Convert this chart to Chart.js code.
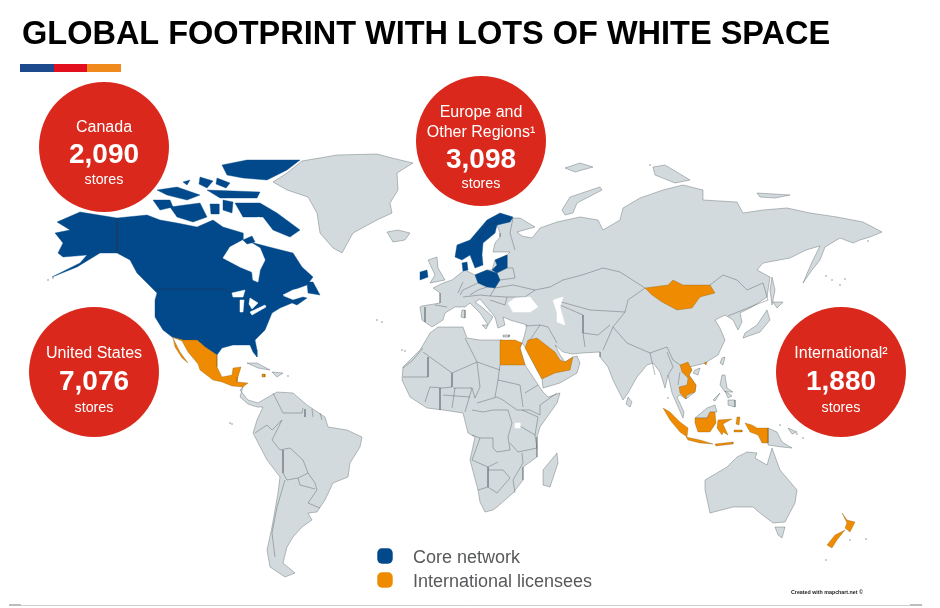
<!DOCTYPE html>
<html><head><meta charset="utf-8">
<script src="https://cdn.jsdelivr.net/npm/chart.js@4"></script>
<style>html,body{margin:0;padding:0;background:#fff}canvas{display:block}</style>
</head><body><canvas id="c" width="940" height="608"></canvas>
<script>
const title = "GLOBAL FOOTPRINT WITH LOTS OF WHITE SPACE";
const regionNames = [["Canada"],["Europe and","Other Regions¹"],["United States"],["International²"]];
const storeCounts = [2090,3098,7076,1880];
const storeUnit = "stores";
const legendNames = ["Core network","International licensees"];
const credit = "Created with mapchart.net ©";

/* map shapes, in map units */
const greenland=[[302,161],[337,155],[377,154],[392,158],[413,163],[397,173],[398,190],[390,203],[392,213],[377,220],[353,233],[342,253],[333,248],[320,233],[317,213],[308,197],[287,190],[273,182],[287,173]];
const iceland=[[387,232],[398,230],[410,233],[405,240],[393,242]];
const eurasia=[[420,307],[422,320],[432,327],[443,320],[445,313],[455,307],[465,307],[470,303],[480,313],[488,325],[493,317],[483,308],[475,302],[480,299],[495,317],[498,328],[505,325],[503,317],[510,320],[527,325],[524,337],[522,343],[526,348],[537,370],[542,379],[543,388],[560,383],[577,373],[580,363],[577,356],[573,357],[565,362],[560,355],[555,345],[563,352],[572,354],[582,353],[600,352],[600,357],[608,367],[613,380],[623,400],[628,393],[637,377],[647,365],[653,363],[660,372],[665,388],[668,375],[672,393],[683,418],[684,412],[677,397],[680,395],[686,399],[695,392],[696,385],[689,375],[692,370],[690,367],[705,363],[718,355],[725,340],[720,328],[715,320],[725,315],[733,320],[738,330],[742,322],[740,313],[752,307],[767,297],[770,277],[757,270],[763,263],[790,258],[806,250],[820,246],[812,262],[803,283],[812,270],[820,260],[825,247],[840,238],[853,243],[860,240],[870,237],[882,232],[863,222],[837,217],[810,213],[787,208],[763,210],[743,213],[737,202],[703,200],[703,190],[683,185],[663,190],[640,198],[623,208],[620,220],[603,230],[598,220],[580,217],[557,222],[540,228],[532,238],[522,236],[517,232],[535,227],[520,218],[513,218],[505,222],[497,225],[500,233],[500,237],[495,243],[493,252],[510,252],[507,255],[495,260],[492,270],[487,270],[475,275],[465,270],[462,272],[452,280],[443,283],[433,288],[440,293],[440,303],[422,306]];
const africa=[[438,327],[463,327],[467,338],[480,340],[500,340],[522,343],[520,348],[525,365],[533,377],[543,392],[548,397],[560,393],[557,403],[540,427],[537,437],[537,457],[523,467],[523,480],[513,493],[497,507],[493,510],[485,512],[480,502],[478,490],[470,460],[475,437],[468,433],[463,413],[443,410],[427,408],[410,397],[402,380],[403,367],[420,350],[430,333]];
const madagascar=[[557,453],[558,463],[550,487],[543,485],[543,470]];
const centralSouthAmerica=[[243,387],[240,390],[248,400],[258,403],[263,400],[277,392],[293,393],[307,405],[325,417],[328,427],[347,430],[362,437],[360,447],[350,463],[348,477],[333,483],[325,500],[317,512],[308,513],[312,520],[302,527],[293,537],[287,547],[283,563],[295,573],[285,577],[270,567],[267,550],[272,527],[278,493],[280,477],[267,460],[253,433],[257,420],[263,407],[257,407],[248,404],[240,397]];
const australia=[[747,452],[757,453],[755,458],[767,465],[772,448],[780,470],[797,490],[795,503],[785,522],[773,523],[760,513],[753,507],[733,507],[710,513],[705,490],[705,480],[727,467],[737,457]];
const tasmania=[[775,527],[785,527],[782,538],[778,535]];
const uk=[[428,260],[437,257],[438,268],[445,280],[430,283],[435,275]];
const japan=[[767,310],[770,320],[760,332],[743,338],[745,333],[757,325]];
const hokkaido=[[773,302],[783,302],[777,308]];
const sriLanka=[[628,397],[632,402],[630,407],[626,404]];
const taiwan=[[722,358],[725,357],[723,365],[720,363]];
const hainan=[[695,370],[700,368],[698,375],[693,373]];
const luzon=[[722,375],[725,375],[727,388],[733,392],[725,392],[720,385]];
const mindanao=[[728,400],[735,400],[735,407],[728,405]];
const visayas=[[725,391],[732,396],[728,398]];
const palawan=[[720,393],[713,400],[715,401]];
const borneoNorth=[[695,418],[707,408],[715,405],[717,412],[710,412],[707,418]];
const papuaGuinea=[[768,428],[777,432],[782,442],[792,448],[782,447],[768,445]];
const newBritain=[[788,428],[797,432],[792,434]];
const cuba=[[247,363],[257,363],[270,370],[258,368]];
const hispaniola=[[272,372],[283,373],[277,377]];
const svalbard=[[565,168],[580,163],[593,167],[575,172]];
const novayaZemlya=[[562,210],[570,197],[600,187],[602,190],[577,203],[573,213],[565,215]];
const severnaya=[[653,167],[665,165],[690,180],[675,183],[655,175]];
const newSiberian=[[757,193],[790,195],[775,198],[760,197]];
const sakhalin=[[772,277],[775,290],[772,305],[770,290]];
const sicily=[[482,325],[488,325],[486,329]];
const sardinia=[[462,310],[465,310],[465,318],[461,317]];
const crete=[[503,335],[510,335],[509,337],[503,337]];
const landShapes=[greenland,iceland,eurasia,africa,madagascar,centralSouthAmerica,australia,tasmania,uk,japan,hokkaido,sriLanka,taiwan,hainan,luzon,mindanao,visayas,palawan,borneoNorth,papuaGuinea,newBritain,cuba,hispaniola,svalbard,novayaZemlya,severnaya,newSiberian,sakhalin,sicily,sardinia,crete];

const blackSea=[[508,303],[515,298],[530,297],[538,307],[530,312],[513,312]];
const caspian=[[553,300],[563,297],[560,307],[565,325],[557,322],[557,313]];
const lakeVictoria=[[515,423],[520,423],[520,428],[515,428]];
const hudsonBay=[[243,240],[230,247],[223,258],[240,267],[252,272],[253,280],[258,282],[260,270],[265,260],[260,248],[250,242]];
const foxeBasin=[[258,217],[263,220],[264,230],[258,232],[255,224]];
const superior=[[232,293],[245,290],[243,297],[233,297]];
const michigan=[[240,300],[244,300],[243,312],[240,312]];
const huron=[[250,298],[258,303],[252,309],[249,304]];
const erieOntario=[[250,312],[265,305],[266,307],[252,315]];
const gulfStLawrence=[[283,295],[293,290],[303,289],[303,294],[296,298]];
const whiteWater=[blackSea,caspian,lakeVictoria,hudsonBay,foxeBasin,superior,michigan,huron,erieOntario,gulfStLawrence];

const canadaUsa=[[57,222],[80,212],[117,218],[147,215],[160,220],[177,223],[197,227],[213,220],[223,227],[243,233],[243,240],[250,242],[273,248],[293,253],[302,267],[313,277],[307,285],[293,290],[283,296],[293,300],[303,297],[307,298],[297,305],[292,303],[280,308],[272,313],[265,330],[255,340],[257,350],[257,357],[253,352],[250,345],[233,345],[222,348],[217,355],[205,347],[197,340],[183,340],[172,337],[163,330],[155,317],[155,300],[157,293],[147,283],[137,273],[130,260],[117,253],[100,253],[77,267],[52,277],[80,263],[87,255],[63,257],[58,253],[63,243],[55,233],[70,230]];
const newfoundland=[[307,282],[313,282],[320,295],[308,293]];
const ellesmere=[[222,165],[247,160],[300,160],[287,170],[267,180],[243,178],[227,175]];
const baffin=[[235,203],[260,203],[277,213],[300,230],[290,237],[273,230],[263,217],[243,217]];
const devon=[[207,190],[260,192],[257,198],[220,198]];
const axelHeiberg=[[200,177],[213,181],[207,188],[199,184]];
const cornwallis=[[217,178],[230,183],[226,188],[216,184]];
const amundRingnes=[[183,182],[190,180],[187,185]];
const banks=[[153,200],[170,200],[173,207],[160,210]];
const victoriaIsland=[[170,207],[200,203],[207,217],[193,222],[177,217]];
const melville=[[157,190],[177,187],[200,195],[187,200],[167,195]];
const princeOfWales=[[210,204],[219,204],[219,214],[211,214]];
const somerset=[[223,200],[233,202],[232,213],[223,210]];
const southampton=[[243,240],[252,236],[255,242],[247,244]];
const scandinavia=[[513,217],[500,213],[487,220],[470,240],[457,245],[455,257],[462,260],[470,255],[475,268],[483,265],[482,255],[483,243],[495,233],[497,225],[510,222]];
const balticStates=[[495,260],[507,255],[507,268],[497,273],[492,270],[497,265]];
const poland=[[475,275],[487,270],[497,273],[500,280],[495,288],[487,287],[478,283]];
const denmark=[[462,263],[467,262],[468,270],[463,271]];
const ireland=[[420,272],[427,270],[428,277],[420,280]];
const coreShapes=[canadaUsa,ellesmere,baffin,devon,axelHeiberg,cornwallis,amundRingnes,banks,victoriaIsland,melville,princeOfWales,somerset,balticStates,poland,denmark,ireland,scandinavia];

const mexicoMain=[[172,337],[183,340],[197,340],[205,347],[217,355],[217,367],[222,377],[232,375],[233,368],[241,367],[238,377],[237,382],[248,383],[243,387],[232,386],[222,382],[213,380],[200,370],[198,364],[188,352],[182,341]];
const baja=[[173,338],[180,352],[188,363],[182,358],[175,347]];
const jamaica=[[262,374],[265,374],[265,377],[262,377]];
const egypt=[[500,340],[515,340],[522,343],[520,348],[525,365],[500,365]];
const saudi=[[528,340],[537,338],[555,352],[560,360],[565,362],[573,357],[570,370],[555,373],[542,379],[537,370],[525,348]];
const mongolia=[[645,288],[668,285],[673,280],[683,285],[710,285],[715,293],[700,297],[692,308],[677,310],[662,302],[652,295]];
const vietnamCambodia=[[680,365],[688,362],[692,370],[689,375],[696,385],[695,392],[687,395],[686,399],[680,393],[679,387],[687,385],[688,378],[682,372]];
const hongKong=[[704,363],[707,362],[706,365]];
const sumatra=[[663,408],[670,412],[680,422],[688,428],[687,437],[680,432],[670,420]];
const java=[[686,437],[700,440],[713,444],[700,443],[688,440]];
const lesserSunda=[[715,444],[733,442],[733,444],[716,446]];
const borneoSouth=[[715,412],[716,423],[710,432],[698,432],[695,423],[695,418],[707,418],[710,412]];
const sulawesi=[[718,420],[732,419],[723,424],[728,435],[723,432],[722,435],[717,428]];
const maluku=[[737,417],[740,417],[739,425],[736,424]];
const seram=[[734,430],[742,430],[742,432],[734,432]];
const westPapua=[[745,423],[752,425],[757,428],[768,428],[768,443],[762,443],[758,435],[750,432]];
const nzNorth=[[842,513],[847,520],[855,522],[850,532],[845,528],[847,523]];
const nzSouth=[[845,530],[837,540],[832,548],[827,545],[835,535]];
const licenseeShapes=[mexicoMain,baja,jamaica,egypt,saudi,mongolia,vietnamCambodia,hongKong,sumatra,java,lesserSunda,borneoSouth,sulawesi,maluku,seram,westPapua,nzNorth,nzSouth];

const borders=[
[[423,348],[413,360],[403,368]],[[423,352],[452,373],[477,362],[500,370]],[[428,357],[428,377],[403,377]],[[465,338],[477,362],[480,387],[475,398]],[[500,365],[498,380],[495,397]],[[452,373],[452,387],[443,388],[430,387]],[[453,388],[472,388],[475,398]],[[477,403],[497,397],[503,400],[517,410]],[[523,407],[520,385],[498,380]],[[525,393],[538,385]],[[540,405],[557,393]],[[517,410],[530,410],[540,415],[540,405]],[[472,410],[483,412],[493,410],[508,410],[512,423],[508,437],[510,450],[497,452],[493,448],[493,438],[480,438],[472,435]],[[480,438],[472,460],[488,467],[498,462]],[[488,467],[488,487],[478,490]],[[488,470],[503,470],[510,478],[497,493],[488,487]],[[522,453],[523,463],[513,480],[515,493]],[[515,423],[535,435],[537,448],[518,452],[510,443]],[[522,410],[538,417],[535,435]],[[430,387],[425,402]],[[440,388],[440,410]],[[455,388],[452,408]],[[472,388],[465,412]],[[443,395],[470,397]],
[[273,393],[283,413],[302,413],[303,408]],[[282,420],[272,440],[280,450],[290,448],[303,460],[308,473],[315,483],[317,490],[308,503],[320,508]],[[283,450],[283,473],[287,480],[298,478],[308,473]],[[298,478],[300,485],[315,489]],[[285,480],[277,507],[272,533],[275,557]],[[255,433],[267,425],[272,430],[282,420]],[[305,409],[305,417]],[[312,409],[313,417]],[[320,413],[322,420]],
[[550,287],[563,280],[582,275],[603,268],[620,272],[645,288]],[[645,288],[628,300],[625,312]],[[553,300],[565,303],[590,310],[625,312],[613,327]],[[710,285],[723,275],[737,280],[747,290],[763,283],[768,300],[750,307],[728,316]],[[583,333],[585,347]],[[583,333],[598,335],[610,325]],[[613,327],[603,350]],[[613,327],[627,343],[650,353],[667,347],[673,360],[680,365]],[[650,353],[655,375]],[[667,352],[673,367],[668,375]],[[680,372],[678,385]],[[548,327],[557,343]],[[525,326],[540,325],[548,327]],[[540,325],[530,340]],[[560,305],[583,315],[583,333]],
[[458,293],[463,282]],[[435,305],[447,307]],[[425,307],[425,322]],[[495,288],[513,285],[535,290],[525,297],[507,297]],[[500,280],[515,278],[513,268],[507,268]],[[495,288],[490,296],[507,297],[505,305]],[[463,297],[480,295],[490,296]],[[478,283],[463,290],[460,295]],[[513,218],[510,233],[515,250]],[[487,287],[478,290],[470,295]],[[490,300],[505,305]],[[535,290],[550,287]]
];
const coreBorders=[[[117,218],[117,253]],[[157,289],[223,289],[232,293]],[[478,240],[488,225],[497,222]]];
const specks=[[377,320],[382,322],[402,350],[405,351],[230,423],[232,424],[288,376],[650,165],[826,276],[832,280],[840,285],[845,279],[868,241],[53,278],[48,280],[668,398],[780,425],[797,434],[803,438],[850,540],[866,539],[826,560]];

/* palette */
const landGrey="#d2dadd", coreBlue="#01498a", licOrange="#ee8b00", circleRed="#da291c", titleBlack="#000", legendGrey="#58595b";
const stripBlue="#1c4a8c", stripRed="#e2101e", stripOrange="#f08a1d";
const stripBlueShape=[[20,64],[54,64],[54,72],[20,72]], stripRedShape=[[54,64],[87,64],[87,72],[54,72]], stripOrangeShape=[[87,64],[121,64],[121,72],[87,72]];
const ruleBottom=[[9,605.5],[922,605.5]], ruleLeft=[[9,605],[21,605]], ruleRight=[[910,605],[922,605]];

/* circle centres and legend keys on the map */
const circleX=[104,481,94,841], circleY=[147,141,372,372], circleR=[65,65,65,65];
const legendKeyY=[556,580], legendKeyX=385;

const ds=[];
function area(pts,fill,stroke,w){ds.push({type:'line',data:pts.concat([pts[0]]),showLine:true,fill:'shape',backgroundColor:fill,borderColor:stroke,borderWidth:w,pointRadius:0,tension:0,clip:false});}
function line(pts,stroke,w){ds.push({type:'line',data:pts,showLine:true,fill:false,borderColor:stroke,borderWidth:w,pointRadius:0,tension:0,clip:false});}
landShapes.forEach(s=>area(s,landGrey,"rgba(70,80,85,.6)",.6));
borders.forEach(b=>line(b,"rgba(70,80,85,.65)",.6));
coreShapes.forEach(s=>area(s,coreBlue,coreBlue,.4));
coreBorders.forEach(b=>line(b,"#1d3a60",.7));
whiteWater.forEach(s=>area(s,"#ffffff","#ffffff",.5));
area(newfoundland,coreBlue,coreBlue,.4);area(southampton,coreBlue,coreBlue,.4);
licenseeShapes.forEach(s=>area(s,licOrange,"rgba(120,80,10,.7)",.4));
area(stripBlueShape,stripBlue,stripBlue,0);area(stripRedShape,stripRed,stripRed,0);area(stripOrangeShape,stripOrange,stripOrange,0);
line(ruleBottom,"#cfcfcf",1);line(ruleLeft,"#bdbdbd",2);line(ruleRight,"#bdbdbd",2);
ds.push({type:'scatter',data:specks,pointRadius:.7,pointBackgroundColor:"#6d777c",pointBorderWidth:0,showLine:false,clip:false});
ds.push({type:'bubble',data:circleX.map((x,i)=>({x,y:circleY[i],r:circleR[i]})),backgroundColor:circleRed,borderWidth:0,clip:false});
ds.push({type:'scatter',data:[[legendKeyX,legendKeyY[0]]],pointStyle:'rectRounded',pointRadius:9,pointBackgroundColor:coreBlue,pointBorderWidth:0,showLine:false,clip:false});
ds.push({type:'scatter',data:[[legendKeyX,legendKeyY[1]]],pointStyle:'rectRounded',pointRadius:9,pointBackgroundColor:licOrange,pointBorderWidth:0,showLine:false,clip:false});
ds.forEach((d,i)=>d.order=-i);

const F='"Liberation Sans",Arial,sans-serif';
const textPlugin={id:'text',afterDraw(ch){
  const c=ch.ctx,X=ch.scales.x,Y=ch.scales.y;c.save();c.textBaseline='alphabetic';
  const t=(s,x,y,font,col,al)=>{c.font=font;c.fillStyle=col;c.textAlign=al||'center';c.fillText(s,X.getPixelForValue(x),Y.getPixelForValue(y));};
  t(title,22,44,'bold 32.5px '+F,titleBlack,'left');
  const labelBase=[[132],[117,137],[358],[358]],numBase=[163,168,390,390],unitBase=[184,188,412,412];
  regionNames.forEach((lines,i)=>{
    lines.forEach((l,j)=>t(l,circleX[i],labelBase[i][j],'16px '+F,'#fff'));
    t(storeCounts[i].toLocaleString('en-US'),circleX[i],numBase[i],'bold 28px '+F,'#fff');
    t(storeUnit,circleX[i],unitBase[i],'14.3px '+F,'#fff');
  });
  t(legendNames[0],413,563,'18px '+F,legendGrey,'left');
  t(legendNames[1],413,587,'18px '+F,legendGrey,'left');
  t(credit,791,594,'bold 5.3px '+F,'#222','left');
  c.restore();
}};
new Chart(document.getElementById('c'),{type:'scatter',data:{datasets:ds},plugins:[textPlugin],options:{
  responsive:false,animation:false,devicePixelRatio:1,layout:{padding:0,autoPadding:false},
  plugins:{legend:{display:false},title:{display:false},tooltip:{enabled:false}},
  scales:{x:{type:'linear',min:0,max:940,display:false},y:{type:'linear',min:0,max:608,reverse:true,display:false}}
}});
</script></body></html>
